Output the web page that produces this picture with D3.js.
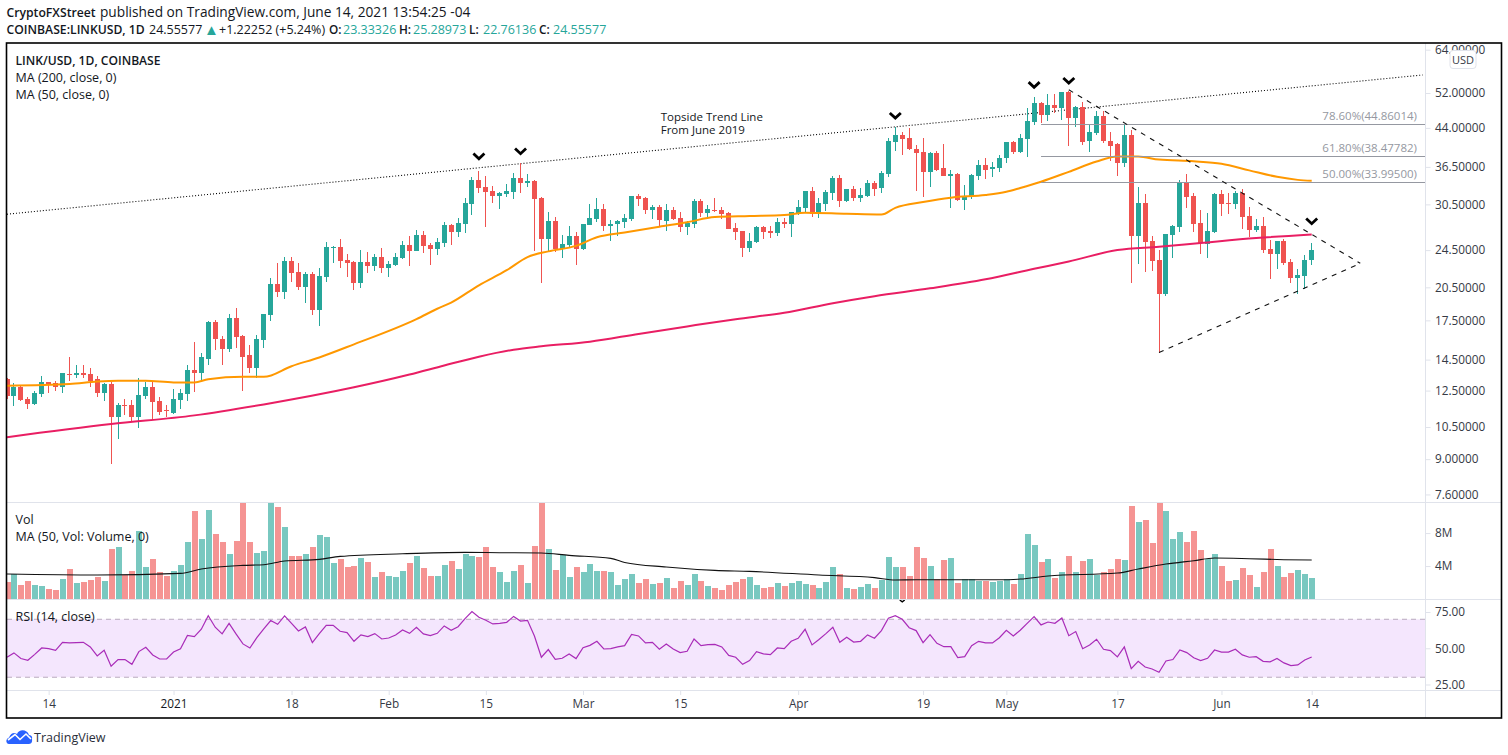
<!DOCTYPE html>
<html>
<head>
<meta charset="utf-8">
<script src="https://cdn.jsdelivr.net/npm/d3@7"></script>
<style>
  body { margin: 0; background: #fff; }
  text { font-family: "Open Sans", "Noto Sans", sans-serif; }
</style>
</head>
<body>
<svg id="chart" width="1508" height="755"></svg>
<script>
// daily candles, LINK/USD, first one is 8 Dec 2020
let firstDay = new Date(Date.UTC(2020, 11, 8))

let open = [
  13.2,12.2,12.74,12.0,11.7,12.3,13.0,12.95,12.7,13.55,
  13.5,13.6,13.55,13.2,12.35,12.9,11.0,11.65,11.65,11.0,
  12.2,12.7,11.9,11.4,11.25,11.95,12.3,13.8,13.6,14.55,
  17.35,16.0,15.25,17.7,16.2,14.8,13.95,15.9,17.95,20.8,
  20.0,23.3,22.05,20.5,21.85,18.4,21.5,24.75,24.85,23.4,
  23.15,20.9,23.15,22.75,23.7,22.5,22.85,23.6,25.1,24.4,
  26.35,25.1,24.6,25.35,27.65,26.75,27.8,30.6,34.3,33.15,
  32.5,31.75,32.05,32.35,34.6,33.8,34.1,31.5,25.85,28.15,
  24.6,25.1,26.2,24.6,27.65,28.4,29.85,27.5,27.8,28.05,
  28.4,31.75,31.5,29.7,30.15,28.15,29.7,28.55,27.4,27.8,
  31.05,29.3,29.7,29.7,29.3,27.25,26.85,24.75,25.45,27.4,
  26.85,26.6,28.05,27.8,29.3,30.0,32.5,29.15,30.6,32.2,
  34.6,31.05,32.85,31.5,31.75,33.8,33.0,35.35,41.2,42.6,
  42.0,39.8,39.2,35.65,39.05,36.35,35.0,35.35,31.2,31.6,
  35.0,36.9,36.2,36.35,38.0,41.2,39.2,41.8,45.3,49.6,
  46.85,49.15,48.45,52.3,46.15,48.7,41.4,43.0,46.6,41.4,
  40.8,37.1,42.6,26.2,30.75,25.6,23.4,19.85,26.35,27.4,
  33.8,31.75,27.9,25.2,26.75,32.05,30.75,30.6,32.2,28.85,
  27.0,27.5,24.6,24.05,25.6,23.15,21.4,21.6,23.33
]
let high = [
  13.25,12.95,12.8,12.1,12.45,13.4,13.05,13.1,13.6,14.65,
  14.1,14.1,13.95,13.4,12.95,13.0,11.75,12.0,11.95,13.3,
  13.0,13.1,12.1,11.65,12.6,12.6,14.1,15.75,15.0,17.45,
  17.5,16.2,18.05,18.55,16.3,15.55,16.3,18.05,21.4,23.05,
  23.7,23.7,23.05,22.05,22.05,22.5,25.45,25.0,25.85,24.05,
  23.3,24.5,24.25,24.05,24.75,23.3,24.15,25.6,26.2,27.0,
  26.85,25.35,25.95,28.05,27.8,28.55,31.5,34.8,35.85,35.0,
  33.3,32.35,33.65,35.5,37.1,35.35,34.3,31.6,29.4,28.7,
  26.35,27.5,26.75,27.8,30.6,31.5,30.6,28.3,28.3,29.15,
  31.75,32.05,31.6,30.45,30.45,30.6,30.15,29.4,28.15,31.35,
  31.35,30.45,31.5,30.15,29.4,27.9,26.9,26.6,27.5,27.5,
  27.5,28.55,28.55,29.4,31.2,32.5,33.15,31.5,32.7,35.0,
  35.15,32.85,33.3,33.0,34.3,34.1,35.85,42.0,44.2,43.2,
  44.0,40.55,42.0,39.2,39.4,40.8,36.0,35.4,33.45,35.35,
  37.8,38.0,37.45,38.55,41.2,41.4,42.8,48.45,51.0,49.85,
  51.75,51.75,52.3,52.55,48.9,49.85,44.65,47.75,47.75,43.2,
  40.85,44.65,43.6,33.15,32.05,26.2,24.5,26.45,27.65,34.3,
  35.35,32.2,29.7,29.3,32.2,32.7,32.2,32.5,32.85,30.15,
  28.4,28.7,25.7,25.6,25.85,23.5,22.4,23.95,25.29
]
let low = [
  12.0,11.6,11.9,11.45,11.65,12.1,12.35,12.5,12.35,13.1,
  13.25,13.3,12.7,12.1,11.9,8.8,9.9,11.1,10.8,10.45,
  12.0,10.85,11.1,11.0,11.15,11.45,11.9,12.4,13.05,14.15,
  15.15,14.1,15.05,15.35,12.5,13.6,13.3,15.35,17.45,19.55,
  19.4,21.0,20.2,19.0,17.95,17.0,21.0,23.05,22.5,21.5,
  20.2,20.4,21.95,22.2,21.95,21.5,22.75,23.5,22.75,24.4,
  24.15,22.85,23.95,24.85,25.1,26.1,26.6,29.0,32.2,27.4,
  30.75,29.85,31.6,31.35,32.2,33.15,24.4,20.9,24.4,24.25,
  23.6,24.85,22.85,24.5,27.6,28.05,26.85,25.6,26.2,27.25,
  28.15,30.3,29.15,28.4,27.5,26.85,28.3,26.75,26.35,27.25,
  28.7,28.55,29.4,28.4,27.15,25.7,23.7,24.25,25.35,25.85,
  25.95,26.2,27.25,26.1,29.0,29.4,28.7,28.55,29.55,31.2,
  30.15,30.9,31.05,30.9,31.6,31.75,32.2,34.8,39.4,38.55,
  39.6,32.5,31.6,33.15,35.85,35.0,30.0,31.05,29.7,31.35,
  34.3,34.45,34.8,35.65,37.25,38.9,39.05,38.35,44.65,45.1,
  45.5,47.3,45.7,40.4,44.2,40.6,39.2,42.6,41.0,37.6,
  35.0,36.55,20.9,22.95,22.05,22.2,15.0,19.65,23.6,26.75,
  30.0,26.75,24.05,23.6,26.6,28.85,29.15,29.85,27.15,26.1,
  26.75,24.15,21.3,22.4,22.85,20.9,19.9,20.3,22.76
]
let close = [
  12.2,12.74,11.95,11.7,12.35,13.05,12.9,12.7,13.6,13.5,
  13.6,13.5,13.1,12.35,12.9,11.0,11.65,11.6,11.0,12.25,
  12.7,11.85,11.3,11.33,12.0,12.35,13.8,13.6,14.65,17.35,
  16.0,15.25,17.7,16.15,14.7,13.95,16.0,18.05,20.8,20.0,
  23.3,21.95,20.5,21.85,18.4,21.6,24.85,24.85,23.3,23.05,
  20.9,23.15,22.75,23.7,22.5,22.95,23.7,25.1,24.4,26.35,
  25.0,24.6,25.45,27.65,26.75,27.9,30.75,34.3,33.0,32.35,
  31.75,32.2,32.5,34.6,33.8,34.1,31.35,25.85,28.15,24.6,
  25.2,26.2,24.6,27.8,28.55,29.85,27.5,27.8,28.15,28.55,
  31.75,31.35,29.7,30.15,28.3,29.7,28.4,27.4,27.9,31.05,
  29.3,29.85,29.55,29.15,27.15,26.75,24.75,25.6,27.4,26.75,
  26.6,28.05,27.8,29.4,30.15,32.5,29.15,30.75,32.35,34.6,
  31.05,32.85,31.5,31.95,33.8,32.85,35.5,41.4,42.6,41.8,
  39.8,39.05,35.65,39.05,36.0,35.0,35.35,31.2,31.75,35.15,
  36.9,36.0,36.5,38.15,41.2,39.2,42.0,45.5,49.6,46.85,
  49.15,48.45,52.3,46.15,48.7,41.2,43.2,46.6,41.4,40.4,
  37.1,42.6,26.2,30.75,25.45,23.3,19.85,26.45,27.5,33.8,
  31.6,27.8,25.35,26.85,32.05,30.6,30.6,32.2,28.7,27.0,
  27.5,24.5,24.05,25.6,23.05,21.4,21.75,23.4,24.56
]
// volume in millions
let volume = [
  2.06,3.03,1.7,2.18,1.7,1.58,1.21,1.09,2.42,3.64,
  1.94,2.06,2.3,2.67,2.18,6.06,6.3,2.91,3.39,8.24,
  3.88,4.85,3.27,2.79,3.39,4.12,6.91,10.67,7.27,10.79,
  7.88,6.91,5.45,7.03,12.4,6.91,5.58,5.82,12.2,11.15,
  8.73,5.21,5.21,5.45,6.3,7.76,7.52,4.36,4.85,3.88,
  4.0,4.97,4.48,2.67,3.27,2.79,2.67,3.39,4.36,5.21,
  3.76,2.79,2.79,4.12,4.61,3.64,5.45,5.21,5.09,6.3,
  3.88,3.27,2.06,3.39,4.12,1.94,6.42,13.0,6.06,3.52,
  5.33,2.67,3.88,3.27,4.24,3.39,3.39,3.27,1.7,2.42,
  3.03,1.94,2.42,1.82,1.94,2.55,1.33,2.18,1.7,3.03,
  2.18,1.58,1.33,1.09,1.7,2.06,2.42,2.67,1.7,1.33,
  1.45,1.94,1.58,1.94,2.18,1.82,1.7,1.33,2.06,3.88,
  3.03,1.33,1.21,1.45,1.82,1.33,2.3,5.09,3.88,3.88,
  2.79,6.3,4.97,4.0,2.42,4.73,4.97,1.94,2.42,2.42,
  2.18,2.18,2.06,2.18,2.42,1.82,3.03,7.88,6.55,4.48,
  4.85,2.55,3.27,5.21,3.27,4.61,4.85,2.91,3.27,3.64,
  4.85,4.73,11.27,9.33,9.58,6.79,12.0,10.67,7.27,8.12,
  6.91,8.24,5.94,4.85,5.45,4.0,2.18,2.3,3.76,2.91,
  1.45,3.27,6.06,4.0,2.67,3.15,3.52,3.03,2.55
]
let rsi = [
  43.8,46.8,42.9,41.7,45.8,50.2,49.7,48.6,54.1,53.7,
  53.9,54.1,50.9,44.7,48.6,37.6,42.2,42.2,38.9,47.7,
  50.7,45.4,42.6,42.6,47.4,49.7,58.9,58.0,63.1,72.5,
  64.5,59.9,67.2,59.9,53.0,50.2,57.3,63.3,69.1,66.5,
  72.3,67.2,61.9,64.7,53.9,60.1,65.8,65.8,61.7,60.8,
  54.8,59.2,58.0,60.1,56.4,57.1,59.2,62.6,60.3,64.5,
  59.9,58.7,60.3,65.4,62.4,64.9,70.4,75.3,71.4,69.3,
  66.8,67.2,67.9,72.0,68.8,69.3,58.5,43.8,49.1,42.4,
  43.1,46.1,42.9,50.4,52.0,54.8,49.5,49.7,50.9,51.8,
  59.6,58.5,53.7,54.1,49.3,53.0,49.5,47.0,47.9,56.4,
  51.8,52.5,52.7,50.9,45.1,43.8,38.9,41.5,47.7,46.1,
  45.6,50.2,49.7,54.8,56.9,63.1,52.3,56.0,60.1,64.5,
  54.1,57.6,54.3,54.8,59.2,56.9,62.2,70.7,72.5,70.0,
  64.2,62.2,53.9,59.4,53.4,51.1,51.1,43.5,44.2,51.8,
  54.8,53.7,53.7,57.3,62.4,58.5,62.4,67.2,71.8,66.1,
  68.1,67.2,70.9,58.7,61.5,49.7,52.3,56.2,49.3,48.4,
  44.0,50.9,36.0,41.0,37.1,35.7,33.4,41.2,42.2,48.8,
  47.0,43.5,41.5,43.1,48.8,47.4,47.4,49.3,45.4,43.8,
  44.2,41.0,40.6,42.9,39.9,38.0,38.5,41.9,44.0
]

// moving averages at a number of candles
let ma50Days = [0,9,13,16,20,24,27,29,34,37,41,45,50,59,62,64,68,72,75,78,82,85,89,94,98,102,107,112,115,121,126,128,132,136,141,144,146,149,153,157,160,163,166,171,175,179,183,186,188]
let ma50Values = [12.8,12.9,13.05,13.1,13.1,13.0,13.0,13.2,13.35,13.35,14.05,14.65,15.6,17.6,18.5,19.05,20.7,22.25,23.7,24.35,25.0,26.05,26.65,27.4,28.0,28.7,28.85,29.0,29.3,29.15,29.05,30.0,30.85,31.5,31.9,32.4,33.0,34.0,35.65,37.45,38.35,38.35,37.8,37.5,37.05,35.9,34.8,34.3,34.15]
let ma200Days = [0,15,27,37,50,58,63,68,73,77,84,91,98,105,112,119,125,133,141,148,153,160,166,172,180,188]
let ma200Values = [10.0,10.65,11.1,11.7,12.7,13.5,14.1,14.7,15.2,15.45,15.8,16.4,17.0,17.6,18.15,19.0,19.65,20.4,21.3,22.4,23.2,24.5,24.9,25.35,25.95,26.4]
let volMaDays = [0,13,25,28,34,37,40,45,48,57,66,71,77,81,87,89,95,102,107,117,125,128,131,143,146,150,160,163,167,171,174,179,184,188]
let volMaValues = [3.03,2.91,3.11,3.64,4.08,4.16,4.61,4.81,5.17,5.49,5.66,5.62,5.58,5.29,4.93,4.44,3.88,3.47,3.35,2.91,2.59,2.3,2.34,2.34,2.42,2.79,3.15,3.64,4.24,4.65,4.97,4.89,4.77,4.73]

// axis ticks
let priceTicks = [64,52,44,36.5,30.5,24.5,20.5,17.5,14.5,12.5,10.5,9,7.6]
let volTicks = [4,8]
let rsiTicks = [25,50,75]
let timeTickDays = [6,24,41,55,69,83,97,114,132,144,160,175,188]
let timeTickLabels = ['14','2021','18','Feb','15','Mar','15','Apr','19','May','17','Jun','14']

// drawings on the chart: day numbers count from firstDay
let trendDays = [0,204]
let trendPrices = [29.1,56.7]
let wedgeTopDays = [153,195]
let wedgeTopPrices = [52.8,23.0]
let wedgeLowDays = [166,195]
let wedgeLowPrices = [15.0,23.0]
let fibLevels = ['78.60%(44.86014)','61.80%(38.47782)','50.00%(33.99500)']
let fibPrices = [44.86014,38.47782,33.995]
let fibStartDay = 149
let markDays = [68,74,128,148,153,188]
let markPrices = [38.35,39.3,46.6,54.0,55.1,28.1]

let upColor = '#26a69a'
let downColor = '#ef5350'
let gridColor = '#e0e3eb'
let textColor = '#363a45'

let left = 7, axisX = 1425, right = 1502
let top1 = 43, bottom1 = 502, bottom2 = 599.5, bottom3 = 690, frameBottom = 718

let dayDate = (i) => d3.utcDay.offset(firstDay, i)

let x = d3.scaleUtc().domain([dayDate(0), dayDate(188)]).range([7, 1311.7])
let yPrice = d3.scaleLog().domain([7.33, 66.08]).range([bottom1, top1])
let yVol = d3.scaleLinear().domain([0, 11.65]).range([599, 503])
let yRsi = d3.scaleLinear().domain([21.2, 83.3]).range([690, 600])

let xDay = (i) => x(dayDate(0)) + (x(dayDate(1)) - x(dayDate(0))) * i

let candles = open.map((o, i) => ({day: i, open: o, high: high[i], low: low[i], close: close[i], volume: volume[i], up: close[i] >= o}))

let svg = d3.select('#chart')

svg.append('rect').attr('width', 1508).attr('height', 755).attr('fill', '#fff')

let defs = svg.append('defs')
let addClip = (id, y0, y1) => defs.append('clipPath').attr('id', id).append('rect')
  .attr('x', left).attr('y', y0).attr('width', axisX - left).attr('height', y1 - y0)
addClip('clipPrice', top1, bottom1)
addClip('clipVol', 503, bottom2)
addClip('clipRsi', 600, bottom3)

// ***** price pane *****
let pricePane = svg.append('g').attr('clip-path', 'url(#clipPrice)')

pricePane.append('line')
  .attr('x1', xDay(trendDays[0])).attr('y1', yPrice(trendPrices[0]))
  .attr('x2', xDay(trendDays[1])).attr('y2', yPrice(trendPrices[1]))
  .attr('stroke', '#000').attr('stroke-width', 1.1).attr('stroke-dasharray', '1 2')

pricePane.selectAll('.wick').data(candles).enter().append('rect')
  .attr('class', 'wick')
  .attr('x', (d) => Math.floor(xDay(d.day)))
  .attr('width', 1)
  .attr('y', (d) => yPrice(d.high))
  .attr('height', (d) => yPrice(d.low) - yPrice(d.high))
  .attr('fill', (d) => d.up ? upColor : downColor)
  .attr('shape-rendering', 'crispEdges')

pricePane.selectAll('.body').data(candles).enter().append('rect')
  .attr('class', 'body')
  .attr('x', (d) => Math.floor(xDay(d.day)) - 2)
  .attr('width', 5)
  .attr('y', (d) => yPrice(Math.max(d.open, d.close)))
  .attr('height', (d) => Math.max(1, Math.abs(yPrice(d.open) - yPrice(d.close))))
  .attr('fill', (d) => d.up ? upColor : downColor)
  .attr('shape-rendering', 'crispEdges')

let priceLine = d3.line().curve(d3.curveMonotoneX).x((d) => xDay(d[0])).y((d) => yPrice(d[1]))
let drawMa = (days, values, color) => pricePane.append('path')
  .attr('d', priceLine(days.map((d, i) => [d, values[i]])))
  .attr('fill', 'none').attr('stroke', color).attr('stroke-width', 2)
drawMa(ma200Days, ma200Values, '#e91e63')
drawMa(ma50Days, ma50Values, '#ff9800')

// fib levels
fibPrices.forEach((p, i) => {
  pricePane.append('line')
    .attr('x1', xDay(fibStartDay)).attr('x2', axisX)
    .attr('y1', Math.round(yPrice(p)) + 0.5).attr('y2', Math.round(yPrice(p)) + 0.5)
    .attr('stroke', '#9598a1').attr('stroke-width', 1)
  pricePane.append('text')
    .attr('x', 1417).attr('y', yPrice(p) - 4)
    .attr('text-anchor', 'end').attr('font-size', 11.5).attr('fill', '#9598a1')
    .text(fibLevels[i])
})

// dashed wedge
let drawWedge = (days, prices) => pricePane.append('line')
  .attr('x1', xDay(days[0])).attr('y1', yPrice(prices[0]))
  .attr('x2', xDay(days[1])).attr('y2', yPrice(prices[1]))
  .attr('stroke', '#111').attr('stroke-width', 1.1).attr('stroke-dasharray', '5 5.5')
drawWedge(wedgeTopDays, wedgeTopPrices)
drawWedge(wedgeLowDays, wedgeLowPrices)

// chevrons above the tops
pricePane.selectAll('.mark').data(markDays).enter().append('path')
  .attr('class', 'mark')
  .attr('transform', (d, i) => 'translate(' + xDay(d) + ',' + yPrice(markPrices[i]) + ')')
  .attr('d', 'M-5.5,-3L0,2.2L5.5,-3')
  .attr('fill', 'none').attr('stroke', '#000').attr('stroke-width', 2.8)

let topside = pricePane.append('text')
  .attr('font-size', 11.5).attr('fill', '#131722')
  .attr('transform', 'translate(' + xDay(94.2) + ',' + yPrice(45.5) + ')')
topside.append('tspan').attr('x', 0).attr('y', 0).text('Topside Trend Line')
topside.append('tspan').attr('x', 0).attr('y', 13).text('From June 2019')

// ***** volume pane *****
let volPane = svg.append('g').attr('clip-path', 'url(#clipVol)')
volPane.selectAll('.vol').data(candles).enter().append('rect')
  .attr('class', 'vol')
  .attr('x', (d) => Math.floor(xDay(d.day)) - 2.5)
  .attr('width', 6)
  .attr('y', (d) => yVol(d.volume))
  .attr('height', (d) => yVol(0) - yVol(d.volume))
  .attr('fill', (d) => d.up ? upColor : downColor)
  .attr('fill-opacity', 0.62)
  .attr('shape-rendering', 'crispEdges')
volPane.append('path')
  .attr('d', d3.line().curve(d3.curveMonotoneX).x((d) => xDay(d[0])).y((d) => yVol(d[1]))(volMaDays.map((d, i) => [d, volMaValues[i]])))
  .attr('fill', 'none').attr('stroke', '#111').attr('stroke-width', 1.1)

// ***** rsi pane *****
let rsiPane = svg.append('g').attr('clip-path', 'url(#clipRsi)')
rsiPane.append('rect')
  .attr('x', left).attr('width', axisX - left)
  .attr('y', yRsi(70)).attr('height', yRsi(30) - yRsi(70))
  .attr('fill', '#f4e6fd')
;[70, 30].forEach((v) => {
  rsiPane.append('line')
    .attr('x1', left).attr('x2', axisX)
    .attr('y1', yRsi(v)).attr('y2', yRsi(v))
    .attr('stroke', '#b9aabf').attr('stroke-width', 1).attr('stroke-dasharray', '5 4')
})
rsiPane.append('path')
  .attr('d', d3.line().x((d, i) => xDay(i)).y((d) => yRsi(d))(rsi))
  .attr('fill', 'none').attr('stroke', '#a92cb8').attr('stroke-width', 1.2)
// tip of a chevron that hangs into the top of this pane
rsiPane.append('path')
  .attr('transform', 'translate(' + xDay(129) + ',' + yRsi(83.3) + ')')
  .attr('d', 'M-2.5,0L0,1.8L2.5,0')
  .attr('fill', 'none').attr('stroke', '#000').attr('stroke-width', 1.4)

// ***** separators and axes *****
;[502.5, 599.5, 690.5].forEach((y) => {
  svg.append('line').attr('x1', left).attr('x2', right).attr('y1', y).attr('y2', y)
    .attr('stroke', gridColor).attr('stroke-width', 1)
})
svg.append('line').attr('x1', axisX + 0.5).attr('x2', axisX + 0.5).attr('y1', top1).attr('y2', frameBottom)
  .attr('stroke', gridColor).attr('stroke-width', 1)

let styleAxis = (g) => {
  g.select('.domain').remove()
  g.selectAll('line').attr('stroke', gridColor)
  g.selectAll('text').attr('fill', textColor).attr('font-size', 11.8)
    .style('font-family', '"Open Sans", "Noto Sans", sans-serif')
}
let rightAxis = (scale, ticks, fmt) => {
  svg.append('g')
    .attr('transform', 'translate(' + (axisX + 0.5) + ',0)')
    .call(d3.axisRight(scale).tickValues(ticks).tickFormat(fmt).tickSize(5).tickPadding(4.5))
    .call(styleAxis)
}
rightAxis(yPrice, priceTicks, (d) => d.toFixed(5))
rightAxis(yVol, volTicks, (d) => d + 'M')
rightAxis(yRsi, rsiTicks, (d) => d.toFixed(2))

let timeAxis = svg.append('g')
  .attr('transform', 'translate(0,' + bottom3 + ')')
  .call(d3.axisBottom(x)
    .tickValues(timeTickDays.map(dayDate))
    .tickFormat((d, i) => timeTickLabels[i])
    .tickSize(5).tickPadding(4.5))
  .call(styleAxis)
timeAxis.selectAll('text').filter((d, i) => timeTickLabels[i] == '2021')
  .attr('fill', '#131722')

// USD badge on the price axis
svg.append('rect')
  .attr('x', 1450).attr('y', 50.5).attr('width', 26).attr('height', 18).attr('rx', 3)
  .attr('fill', '#fff').attr('stroke', gridColor)
svg.append('text')
  .attr('x', 1463).attr('y', 63.5).attr('text-anchor', 'middle')
  .attr('font-size', 11).attr('fill', textColor).text('USD')

// frame
svg.append('rect')
  .attr('x', 6.5).attr('y', 43).attr('width', 1495).attr('height', 675)
  .attr('fill', 'none').attr('stroke', '#000').attr('stroke-width', 1.6)

// ***** texts *****
let label = (px, py, txt, size, weight, color) => svg.append('text')
  .attr('x', px).attr('y', py)
  .attr('font-size', size).attr('font-weight', weight || 400).attr('fill', color || '#131722')
  .text(txt)

label(6.5, 17, 'CryptoFXStreet', 12.2, 600)
label(100, 17, 'published on TradingView.com, June 14, 2021 13:54:25 -04', 13.7)
label(6.5, 34, 'COINBASE:LINKUSD, 1D', 12.2, 600)
label(149, 34, '24.55577', 12.5)
label(204, 34.5, '▲', 15, 400, upColor)
label(219, 34, '+1.22252 (+5.24%)', 12.5)
let ohlcLabels = ['O:', 'H:', 'L:', 'C:']
let ohlcValues = ['23.33326', '25.28973', '22.76136', '24.55577']
ohlcLabels.forEach((t, i) => {
  label(329 + i * 70, 34, t, 11.8, 600)
  label(343 + i * 70, 34, ohlcValues[i], 12.5, 400, upColor)
})

label(15.5, 65, 'LINK/USD, 1D, COINBASE', 12.1, 600)
label(15.5, 82, 'MA (200, close, 0)', 12.5)
label(15.5, 99, 'MA (50, close, 0)', 12.5)
label(15.5, 524, 'Vol', 12.5)
label(15.5, 541, 'MA (50, Vol: Volume, 0)', 12.5)
label(15.5, 621, 'RSI (14, close)', 12.5)

// logo
let logo = svg.append('g').attr('transform', 'translate(6,729)')
logo.append('path')
  .attr('d', 'M3,15C0,15 -1,10 3,8.5C5,4 8,3 11,5C13,0 21,0 23,6C26,6.5 26.5,8 26,10C26.5,14 25,15 22,15Z')
  .attr('fill', '#2962ff')
logo.append('path')
  .attr('d', 'M2,11L9,5.5L14,10.5L20,5L25,10')
  .attr('fill', 'none').attr('stroke', '#fff').attr('stroke-width', 1.6)
label(34, 742, 'TradingView', 12.5, 400, '#2a2e39')
</script>
</body>
</html>
